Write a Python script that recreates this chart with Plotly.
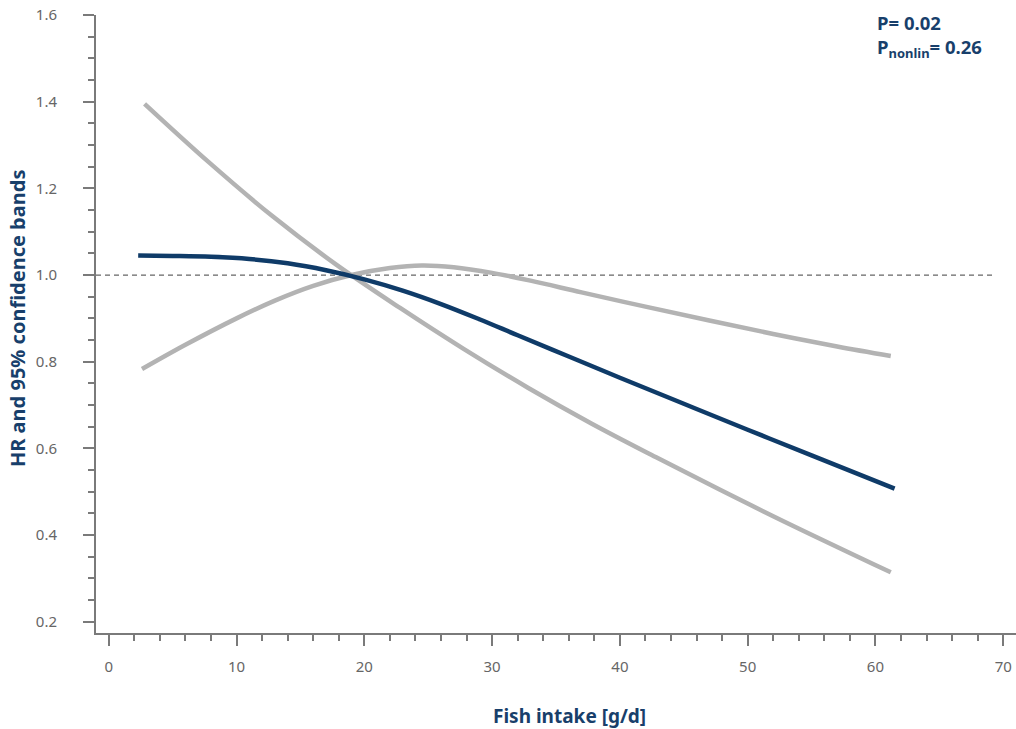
import plotly.graph_objects as go

# ---- data ----
hr_x = [2.3, 5, 8, 11, 14, 17, 20, 23, 26, 29, 32, 36, 40, 45, 50, 55, 61.5]
hr_y = [1.045, 1.044, 1.042, 1.037, 1.027, 1.011, 0.990, 0.964, 0.933, 0.898, 0.861, 0.812, 0.763, 0.703, 0.643, 0.584, 0.507]

upper_x = [2.6, 6, 10, 13, 16, 19, 22, 24.5, 27, 30, 33, 37, 42, 47, 52, 57, 61.2]
upper_y = [0.783, 0.839, 0.900, 0.941, 0.975, 1.000, 1.016, 1.022, 1.018, 1.005, 0.987, 0.960, 0.927, 0.895, 0.864, 0.835, 0.813]

lower_x = [2.8, 7.8, 12.8, 17.8, 22.8, 27.8, 32.8, 37.8, 42.8, 47.8, 52.8, 61.2]
lower_y = [1.395, 1.261, 1.136, 1.024, 0.924, 0.829, 0.740, 0.657, 0.580, 0.505, 0.432, 0.314]

ref_x = [-1.0, 69.4]
ref_y = [1.0, 1.0]

x_range = [-1.0, 71.0]
y_range = [0.174, 1.6]

x_title = "Fish intake [g/d]"
y_title = "HR and 95% confidence bands"
p_text = "P= 0.02"
pnl_text = "P<sub>nonlin</sub>= 0.26"

# ---- style ----
NAVY = "#0f3b68"
TEXT_NAVY = "#183f6b"
GRAY = "#b3b3b3"
AXIS = "#7a7a7a"
TICKTXT = "#666666"
FONT = "Noto Sans"

W, H = 1016, 729
ML, MR, MT, MB = 96, 0, 15, 96


def px_x(px):
    return (px - ML) / (W - ML - MR)


def px_y(py):
    return (H - MB - py) / (H - MB - MT)


fig = go.Figure()

fig.add_trace(go.Scatter(x=ref_x, y=ref_y, mode="lines",
                         line=dict(color="#666666", width=1.2, dash="5px,4px"),
                         hoverinfo="skip", showlegend=False))
fig.add_trace(go.Scatter(x=lower_x, y=lower_y, mode="lines",
                         line=dict(color=GRAY, width=4.5, shape="spline", smoothing=1.0),
                         showlegend=False))
fig.add_trace(go.Scatter(x=upper_x, y=upper_y, mode="lines",
                         line=dict(color=GRAY, width=4.5, shape="spline", smoothing=1.0),
                         showlegend=False))
fig.add_trace(go.Scatter(x=hr_x, y=hr_y, mode="lines",
                         line=dict(color=NAVY, width=4.5, shape="spline", smoothing=1.0),
                         showlegend=False))

fig.update_xaxes(range=x_range, dtick=10, tick0=0, showline=True, linecolor=AXIS, linewidth=2,
                 ticks="outside", ticklen=11, tickwidth=1.5, tickcolor=AXIS,
                 minor=dict(dtick=2, tick0=0, ticks="outside", ticklen=6, tickwidth=1.5, tickcolor=AXIS),
                 showgrid=False, zeroline=False,
                 tickfont=dict(family=FONT, size=15, color=TICKTXT), ticklabelstandoff=8)
fig.update_yaxes(range=y_range, dtick=0.2, tick0=0.2, tickformat=".1f", showline=True, linecolor=AXIS, linewidth=2,
                 ticks="outside", ticklen=11, tickwidth=1.5, tickcolor=AXIS,
                 minor=dict(dtick=0.05, tick0=0.2, ticks="outside", ticklen=6, tickwidth=1.5, tickcolor=AXIS),
                 showgrid=False, zeroline=False,
                 tickfont=dict(family=FONT, size=15, color=TICKTXT), ticklabelstandoff=23)

annos = [
    dict(text=f"<b>{x_title}</b>", x=px_x(569), y=px_y(716), xanchor="center", yanchor="middle",
         font=dict(family=FONT, size=19, color=TEXT_NAVY)),
    dict(text=f"<b>{y_title}</b>", x=px_x(17), y=px_y(319), xanchor="center", yanchor="middle", textangle=-90,
         font=dict(family=FONT, size=20, color=TEXT_NAVY)),
    dict(text=f"<b>{p_text}</b>", x=px_x(875), y=px_y(22), xanchor="left", yanchor="middle",
         font=dict(family=FONT, size=18.5, color=TEXT_NAVY)),
    dict(text=f"<b>{pnl_text}</b>", x=px_x(875), y=px_y(48), xanchor="left", yanchor="middle",
         font=dict(family=FONT, size=18.5, color=TEXT_NAVY)),
]
for a in annos:
    a.update(xref="paper", yref="paper", showarrow=False)

fig.update_layout(width=W, height=H, margin=dict(l=ML, r=MR, t=MT, b=MB),
                  paper_bgcolor="white", plot_bgcolor="white", annotations=annos,
                  font=dict(family=FONT))

fig.write_html("out.html")
